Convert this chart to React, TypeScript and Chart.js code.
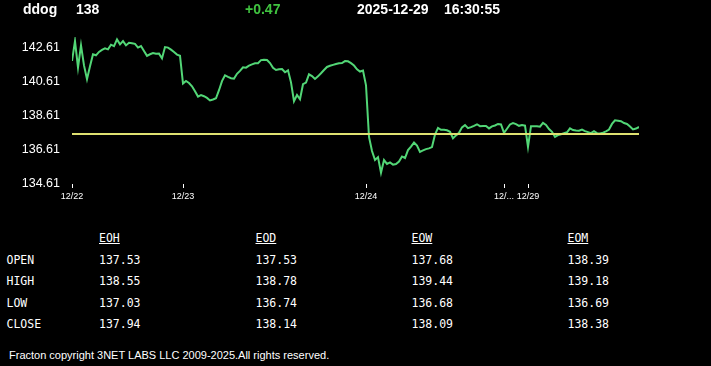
import React, { useEffect, useRef } from "react";
import { Chart, registerables } from "chart.js";

Chart.register(...registerables);

const ticker = "ddog";
const lastPrice = "138";
const change = "+0.47";
const dateText = "2025-12-29";
const timeText = "16:30:55";

const prices: number[] = [
  141.80, 142.96, 141.41, 142.71, 141.54, 140.73, 141.49, 142.19, 142.13, 142.33,
  142.45, 142.54, 142.48, 142.75, 142.67, 143.06, 142.77, 142.96, 142.71, 142.86,
  142.84, 142.80, 142.58, 142.67, 142.38, 142.10, 142.19, 142.26, 142.22, 142.23,
  141.95, 142.61, 142.58, 142.46, 142.32, 142.17, 142.10, 140.48, 140.63, 140.51,
  140.32, 140.03, 139.72, 139.81, 139.74, 139.64, 139.49, 139.55, 139.62, 140.09,
  140.62, 140.96, 140.87, 140.79, 140.77, 141.05, 141.22, 141.43, 141.41, 141.53,
  141.60, 141.66, 141.67, 141.85, 141.87, 141.86, 141.68, 141.40, 141.27, 141.32,
  141.33, 141.14, 141.25, 140.55, 139.45, 139.81, 139.56, 140.44, 140.54, 141.02,
  140.92, 140.75, 140.90, 141.08, 141.27, 141.45, 141.52, 141.57, 141.62, 141.66,
  141.68, 141.79, 141.78, 141.67, 141.53, 141.31, 141.18, 141.24, 140.38, 137.36,
  136.54, 136.01, 136.18, 135.27, 136.01, 135.78, 135.87, 135.74, 135.78, 135.92,
  136.22, 136.13, 136.59, 136.80, 137.03, 136.85, 136.49, 136.57, 136.65, 136.69,
  136.77, 137.50, 137.89, 137.78, 137.78, 137.75, 137.66, 137.28, 137.45, 137.60,
  137.92, 138.05, 137.87, 137.93, 138.01, 138.10, 137.99, 138.00, 138.00, 137.86,
  137.98, 138.03, 138.12, 138.09, 137.60, 137.84, 138.09, 138.17, 138.11, 138.01,
  138.05, 138.02, 136.78, 137.99, 137.99, 137.99, 137.96, 138.18, 138.06, 137.82,
  137.66, 137.36, 137.47, 137.52, 137.58, 137.63, 137.86, 137.76, 137.73, 137.72,
  137.79, 137.70, 137.64, 137.58, 137.70, 137.58, 137.56, 137.61, 137.69, 137.79,
  138.12, 138.33, 138.31, 138.28, 138.17, 138.12, 137.97, 137.80, 137.85, 137.94,
];

const refLevel = 137.53;

const xTickIdx = [0, 37, 98, 144, 152];
const xTickLabels = ["12/22", "12/23", "12/24", "12/...", "12/29"];
const yTicks = [134.61, 136.61, 138.61, 140.61, 142.61];
const yMin = 134.61;
const yMax = 143.2;

const tableCols = ["EOH", "EOD", "EOW", "EOM"];
const tableRows = ["OPEN", "HIGH", "LOW", "CLOSE"];
const eohValues = ["137.53", "138.55", "137.03", "137.94"];
const eodValues = ["137.53", "138.78", "136.74", "138.14"];
const eowValues = ["137.68", "139.44", "136.68", "138.09"];
const eomValues = ["138.39", "139.18", "136.69", "138.38"];
const tableValues = [eohValues, eodValues, eowValues, eomValues];

const footer = "Fracton copyright 3NET LABS LLC 2009-2025.All rights reserved.";

const GREEN_LINE = "rgb(82, 214, 118)";
const YELLOW_LINE = "rgb(222, 224, 112)";
const SANS = "'Liberation Sans', Arial, sans-serif";
const MONO = "'DejaVu Sans Mono', 'Liberation Mono', monospace";

export default function App() {
  const canvasRef = useRef<HTMLCanvasElement | null>(null);

  useEffect(() => {
    document.body.style.background = "#000";
    const canvas = canvasRef.current;
    if (!canvas) return;
    const chart = new Chart(canvas, {
      type: "line",
      data: {
        datasets: [
          {
            data: prices.map((_, i) => ({ x: i, y: refLevel })),
            borderColor: YELLOW_LINE,
            borderWidth: 2,
            pointRadius: 0,
            order: 0,
          },
          {
            data: prices.map((p, i) => ({ x: i, y: p })),
            borderColor: GREEN_LINE,
            borderWidth: 2,
            pointRadius: 0,
            tension: 0,
            order: 1,
          },
        ],
      },
      options: {
        animation: false,
        responsive: false,
        maintainAspectRatio: false,
        devicePixelRatio: 1,
        layout: { padding: { top: 37, left: 0, right: 72, bottom: 0 } },
        plugins: { legend: { display: false }, tooltip: { enabled: false } },
        scales: {
          x: {
            type: "linear",
            min: 0,
            max: prices.length - 1,
            afterBuildTicks: (s: any) => {
              s.ticks = xTickIdx.map((v) => ({ value: v }));
            },
            afterFit: (s: any) => {
              s.height = 31;
            },
            ticks: {
              autoSkip: false,
              maxRotation: 0,
              color: "#fff",
              padding: 3,
              font: { family: SANS, size: 9 },
              callback: (_v: any, i: number) => xTickLabels[i],
            },
            grid: {
              drawOnChartArea: false,
              drawTicks: true,
              tickLength: 4,
              color: "#fff",
              lineWidth: 1,
            },
            border: { display: false },
          },
          y: {
            type: "linear",
            min: yMin,
            max: yMax,
            afterBuildTicks: (s: any) => {
              s.ticks = yTicks.map((v) => ({ value: v }));
            },
            afterFit: (s: any) => {
              s.width = 72;
            },
            ticks: {
              color: "#fff",
              padding: 12,
              font: { family: SANS, size: 12.5 },
              callback: (v: any) => Number(v).toFixed(2),
            },
            grid: { display: false, drawTicks: false },
            border: { display: false },
          },
        },
      },
    });
    return () => chart.destroy();
  }, []);

  const hdr: React.CSSProperties = {
    position: "absolute",
    top: 2,
    fontFamily: SANS,
    fontWeight: "bold",
    fontSize: 14,
    lineHeight: "14px",
    color: "#fff",
    whiteSpace: "nowrap",
  };
  const mono: React.CSSProperties = {
    position: "absolute",
    fontFamily: MONO,
    fontSize: 11.5,
    lineHeight: "12px",
    color: "#fff",
    whiteSpace: "nowrap",
  };
  const colX = [99, 255.5, 411.5, 567.5];
  const rowY = [259.5, 281, 302.5, 324];

  return (
    <div
      style={{
        position: "fixed",
        left: 0,
        top: 0,
        width: 711,
        height: 366,
        background: "#000",
        overflow: "hidden",
      }}
    >
      <canvas
        ref={canvasRef}
        width={711}
        height={215}
        style={{ position: "absolute", left: 0, top: 0, width: 711, height: 215 }}
      />
      <span style={{ ...hdr, left: 23 }}>{ticker}</span>
      <span style={{ ...hdr, left: 76 }}>{lastPrice}</span>
      <span style={{ ...hdr, left: 245, color: "rgb(64, 196, 64)" }}>{change}</span>
      <span style={{ ...hdr, left: 357 }}>{dateText}</span>
      <span style={{ ...hdr, left: 444 }}>{timeText}</span>

      {tableCols.map((c, ci) => (
        <span
          key={c}
          style={{ ...mono, left: colX[ci], top: 237.7 - 5.8, textDecoration: "underline" }}
        >
          {c}
        </span>
      ))}
      {tableRows.map((r, ri) => (
        <React.Fragment key={r}>
          <span style={{ ...mono, left: 6.5, top: rowY[ri] - 5.8 }}>{r}</span>
          {tableValues.map((col, ci) => (
            <span key={ci} style={{ ...mono, left: colX[ci], top: rowY[ri] - 5.8 }}>
              {col[ri]}
            </span>
          ))}
        </React.Fragment>
      ))}
      <span
        style={{
          position: "absolute",
          left: 9,
          top: 349,
          fontFamily: SANS,
          fontSize: 11,
          lineHeight: "12px",
          color: "#fff",
          whiteSpace: "nowrap",
        }}
      >
        {footer}
      </span>
    </div>
  );
}
